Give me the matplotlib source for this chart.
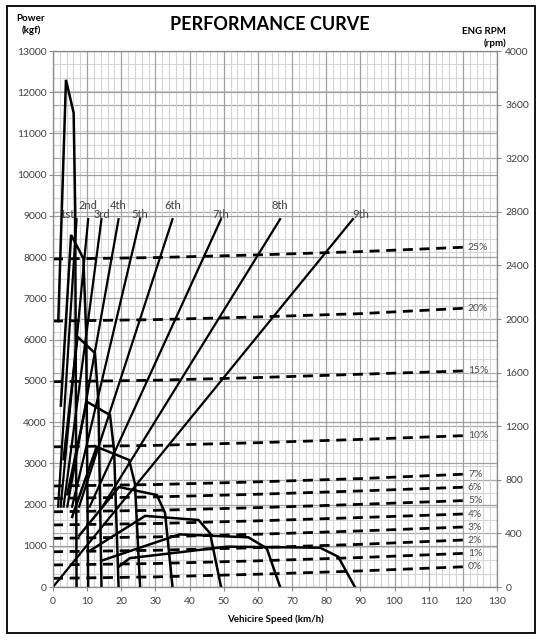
import matplotlib
matplotlib.use('Agg')
import matplotlib.pyplot as plt
from matplotlib.ticker import MultipleLocator
from matplotlib.patches import Rectangle

plt.rcParams['font.family'] = ['Lato', 'DejaVu Sans']

# Traction force per gear (kgf vs km/h)
gears = ['1st', '2nd', '3rd', '4th', '5th', '6th', '7th', '8th', '9th']
traction_speed = [
    [1.55, 3.8, 6.05, 6.5, 6.9],
    [2.3, 5.3, 8.9, 9.7, 10.3],
    [3.1, 7.2, 12.3, 13.3, 14.2],
    [4.2, 9.9, 16.7, 17.9, 19.2],
    [5.6, 12.8, 22.3, 24.0, 25.5],
    [7.7, 19.3, 30.4, 32.8, 35.0],
    [10.8, 27.0, 42.6, 46.0, 49.2],
    [14.6, 37.0, 57.2, 62.6, 66.5],
    [19.2, 22.5, 50.9, 78.2, 83.5, 88.4],
]
traction_force = [
    [6450, 12300, 11500, 9200, 0],
    [4400, 8540, 7970, 6200, 0],
    [3100, 6070, 5670, 4500, 0],
    [2250, 4495, 4170, 3300, 0],
    [1700, 3400, 3080, 2500, 0],
    [1250, 2425, 2231, 1800, 0],
    [880, 1725, 1625, 1302, 0],
    [650, 1276, 1205, 938, 0],
    [490, 700, 978, 953, 735, 0],
]

# Engine rpm vs speed per gear (start, end)
rpm_speed = [
    [1.5, 6.9], [2.25, 10.3], [3.1, 14.2], [4.2, 19.2], [5.6, 25.5],
    [7.65, 35.0], [10.75, 49.2], [14.5, 66.5], [0.0, 87.8],
]
rpm_value = [
    [600, 2745], [600, 2745], [600, 2745], [600, 2745], [600, 2745],
    [600, 2745], [600, 2745], [600, 2745], [0, 2745],
]

# Running resistance per grade (kgf)
grades = ['0%', '1%', '2%', '3%', '4%', '5%', '6%', '7%', '10%', '15%', '20%', '25%']
grade_speed = [0, 30, 60, 90, 120]
grade_force = [
    [210, 245, 310, 390, 490],
    [535, 570, 635, 715, 815],
    [855, 890, 955, 1035, 1140],
    [1180, 1215, 1280, 1360, 1455],
    [1505, 1540, 1605, 1685, 1770],
    [1825, 1860, 1925, 2005, 2095],
    [2150, 2185, 2250, 2330, 2420],
    [2450, 2485, 2550, 2630, 2735],
    [3400, 3435, 3500, 3580, 3670],
    [4980, 5015, 5080, 5160, 5240],
    [6450, 6485, 6550, 6630, 6760],
    [7955, 7990, 8055, 8135, 8240],
]

fig = plt.figure(figsize=(5.44, 6.4), dpi=100)
ax = fig.add_axes([0.0974, 0.0828, 0.8162, 0.8375])
ax2 = ax.twinx()   # rpm grid and ticks (background)
ax3 = ax.twinx()   # rpm lines (foreground)

ax2.set_zorder(0)
ax.set_zorder(1)
ax3.set_zorder(2)
ax.patch.set_visible(False)
ax3.patch.set_visible(False)

ax.set_xlim(0, 130)
ax.set_ylim(0, 13000)
ax2.set_ylim(0, 4000)
ax3.set_ylim(0, 4000)

ax.xaxis.set_major_locator(MultipleLocator(10))
ax.xaxis.set_minor_locator(MultipleLocator(2))
ax.yaxis.set_major_locator(MultipleLocator(1000))
ax2.yaxis.set_major_locator(MultipleLocator(400))
ax2.yaxis.set_minor_locator(MultipleLocator(100))

ax.set_axisbelow(True)
ax.grid(which='major', axis='x', color='#a0a0a0', lw=0.9)
ax.grid(which='minor', axis='x', color='#d4d4d4', lw=0.8)
ax.grid(which='major', axis='y', color='#a0a0a0', lw=0.9)
ax2.grid(which='major', axis='y', color='#a8a8a8', lw=0.9)
ax2.grid(which='minor', axis='y', color='#d4d4d4', lw=0.8)

for a in (ax, ax2, ax3):
    for s in a.spines.values():
        s.set_color('#8c8c8c')
        s.set_linewidth(0.8)

ax.tick_params(axis='y', which='major', length=3, color='#8c8c8c',
               labelsize=7.5, labelcolor='#404040', pad=1.5)
ax.tick_params(axis='x', which='major', length=3, color='#8c8c8c',
               labelsize=7.5, labelcolor='#404040', pad=4)
ax.tick_params(axis='x', which='minor', length=0)
ax2.tick_params(axis='y', which='major', length=3, color='#8c8c8c',
                labelsize=7.5, labelcolor='#404040', pad=3)
ax2.tick_params(axis='y', which='minor', length=0)
ax3.yaxis.set_visible(False)

# grade resistance (dashed)
for name, vals in zip(grades, grade_force):
    ax.plot(grade_speed, vals, color='black', lw=2.0,
            linestyle=(0, (3.6, 2.4)), dash_capstyle='butt')
    ax.text(grade_speed[-1] + 1.5, vals[-1], name, fontsize=7.5,
            color='#505050', va='center', ha='left')

# traction curves
for sp, fv in zip(traction_speed, traction_force):
    ax.plot(sp, fv, color='black', lw=1.8, solid_joinstyle='miter')

# rpm lines
for i, (name, sp, rv) in enumerate(zip(gears, rpm_speed, rpm_value)):
    ax3.plot(sp, rv, color='black', lw=1.6)
    dx = -7 if i == 0 else (6 if i == 8 else 0)
    dy = 9.5 if i % 2 == 1 else 3.5
    ax3.annotate(name, (sp[-1], rv[-1]), xytext=(dx, dy), textcoords='offset points',
                 fontsize=8, color='#404040', ha='center', va='center')

fig.text(0.496, 0.962, 'PERFORMANCE CURVE', fontsize=13, fontweight='bold',
         ha='center', va='center')
fig.text(0.057, 0.962, 'Power\n(kgf)', fontsize=7, fontweight='bold',
         ha='center', va='center', linespacing=1.3)
fig.text(0.930, 0.942, 'ENG RPM\n(rpm)', fontsize=7, fontweight='bold',
         ha='right', va='center', linespacing=1.3, multialignment='right')
ax.set_xlabel('Vehicire Speed (km/h)', fontsize=7, fontweight='bold', labelpad=6)

fig.patches.append(Rectangle((0.012, 0.011), 0.971, 0.98, transform=fig.transFigure,
                             fill=False, edgecolor='black', lw=1.3))

fig.savefig('out.png', dpi=100)
